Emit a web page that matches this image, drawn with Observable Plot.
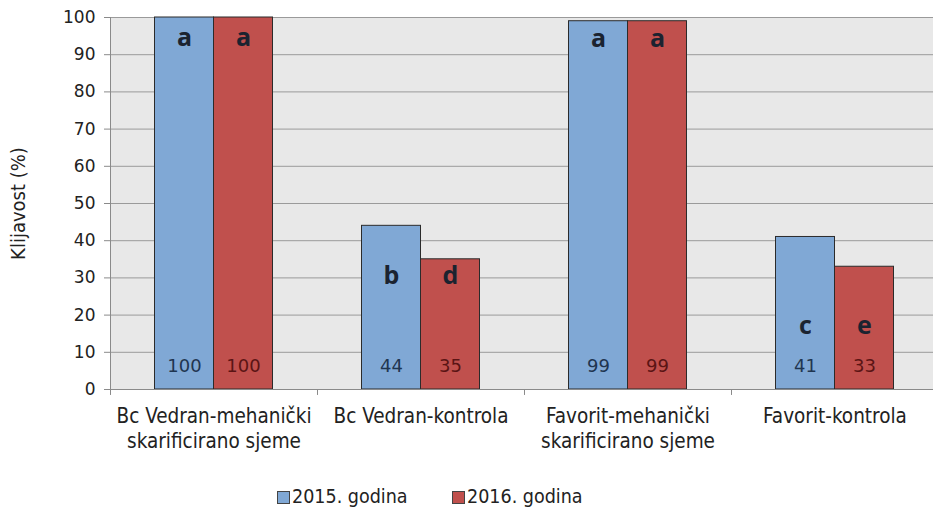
<!DOCTYPE html>
<html>
<head>
<meta charset="utf-8">
<script src="https://cdn.jsdelivr.net/npm/d3@7"></script>
<script src="https://cdn.jsdelivr.net/npm/@observablehq/plot@0.6"></script>
<style>
  html, body { margin: 0; padding: 0; background: #fff; }
  #chart { width: 933px; overflow: hidden; }
  .legend { position: relative; height: 48px; font-family: "DejaVu Sans Condensed", sans-serif; font-size: 19.5px; color: #222; }
  .legend span.item { position: absolute; top: 26px; display: inline-flex; align-items: center; line-height: 22px; }
  .legend span.sw { display: inline-block; width: 13px; height: 13px; border: 1px solid #444; margin-right: 2px; box-sizing: border-box; }
</style>
</head>
<body>
<div id="chart"></div>
<script>
const categories = [
  "Bc Vedran-mehanički\nskarificirano sjeme",
  "Bc Vedran-kontrola",
  "Favorit-mehanički\nskarificirano sjeme",
  "Favorit-kontrola"
];
const values2015 = [100, 44, 99, 41];
const values2016 = [100, 35, 99, 33];
const letters2015 = ["a", "b", "a", "c"];
const letters2016 = ["a", "d", "a", "e"];
const letterLevel = [94.4, 30.6, 94.3, 17.2];
const valueLabelLevel = 6.2;
const yTicks = [0, 10, 20, 30, 40, 50, 60, 70, 80, 90, 100];
const seriesNames = ["2015. godina", "2016. godina"];
const seriesColors = ["#80a8d5", "#c0504d"];
const valueTextColors = ["#1f3550", "#5a1414"];

const rows2015 = categories.map((c, i) => ({cat: c, v: values2015[i], letter: letters2015[i], lv: letterLevel[i]}));
const rows2016 = categories.map((c, i) => ({cat: c, v: values2016[i], letter: letters2016[i], lv: letterLevel[i]}));

const band = 207;
const barW = 59;
const half = band / 2;
const font = "'DejaVu Sans Condensed', sans-serif";
const numFont = "'DejaVu Sans', sans-serif";

const chart = Plot.plot({
  width: 933,
  height: 460,
  marginTop: 17,
  marginBottom: 71,
  marginLeft: 110,
  marginRight: 0,
  style: {fontFamily: font, background: "#fff", color: "#222"},
  x: {domain: categories, range: [110, 938], padding: 0, align: 0.5},
  y: {domain: [0, 100], ticks: yTicks},
  marks: [
    Plot.frame({fill: "#e8e8e8", stroke: null}),
    Plot.ruleY(yTicks.filter(d => d > 0), {stroke: "#9a9a9a", strokeWidth: 1}),
    Plot.barY(rows2015, {x: "cat", y: "v", fill: seriesColors[0], stroke: "#2b2b2b", strokeWidth: 1,
      insetLeft: half - barW, insetRight: half}),
    Plot.barY(rows2016, {x: "cat", y: "v", fill: seriesColors[1], stroke: "#2b2b2b", strokeWidth: 1,
      insetLeft: half, insetRight: half - barW}),
    Plot.text(rows2015, {x: "cat", y: "lv", text: "letter", dx: -barW / 2, fontSize: 25, fontWeight: "bold", fill: "#1b2330", fontFamily: "'Open Sans', sans-serif"}),
    Plot.text(rows2016, {x: "cat", y: "lv", text: "letter", dx: barW / 2, fontSize: 25, fontWeight: "bold", fill: "#1b2330", fontFamily: "'Open Sans', sans-serif"}),
    Plot.text(rows2015, {x: "cat", y: valueLabelLevel, text: d => String(d.v), dx: -barW / 2, fontSize: 18, fill: valueTextColors[0], fontFamily: numFont}),
    Plot.text(rows2016, {x: "cat", y: valueLabelLevel, text: d => String(d.v), dx: barW / 2, fontSize: 18, fill: valueTextColors[1], fontFamily: numFont}),
    Plot.ruleY([0], {stroke: "#8a8a8a", strokeWidth: 1.2}),
    Plot.ruleX(categories, {x: d => d, y1: 0, y2: -1.6, dx: -half, stroke: "#8a8a8a"}),
    Plot.ruleX(categories.slice(0, 1), {x: d => d, y1: 0, y2: 100, dx: -half, stroke: "#8a8a8a"}),
    Plot.axisY({ticks: yTicks, tickSize: 6, tickPadding: 9, fontSize: 17, stroke: "#8a8a8a", fill: "#222", label: null, fontFamily: numFont}),
    Plot.axisX({tickSize: 0, tickPadding: 16, fontSize: 20.5, lineHeight: 1.22, fill: "#222", label: null}),
    Plot.text(["Klijavost (%)"], {frameAnchor: "left", textAnchor: "middle", rotate: -90, dx: -92, fontSize: 20, fill: "#222"})
  ]
});
document.getElementById("chart").appendChild(chart);

const legend = document.createElement("div");
legend.className = "legend";
const lefts = [277, 452];
seriesNames.forEach((n, i) => {
  const it = document.createElement("span");
  it.className = "item";
  it.style.left = lefts[i] + "px";
  const sw = document.createElement("span");
  sw.className = "sw";
  sw.style.background = seriesColors[i];
  it.appendChild(sw);
  it.appendChild(document.createTextNode(n));
  legend.appendChild(it);
});
document.getElementById("chart").appendChild(legend);
</script>
</body>
</html>
